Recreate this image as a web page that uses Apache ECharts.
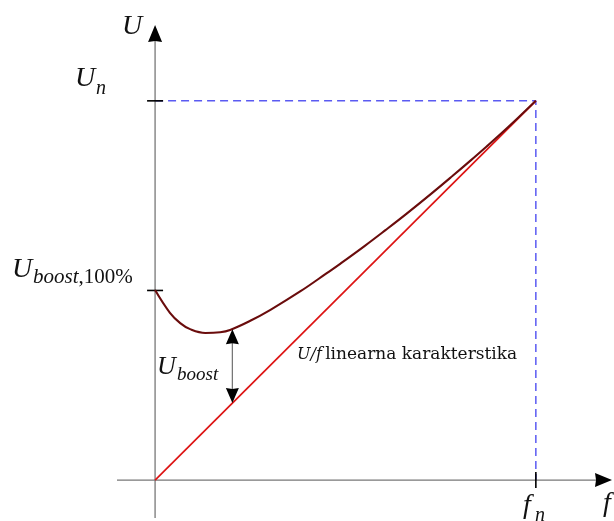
<!DOCTYPE html>
<html>
<head>
<meta charset="utf-8">
<script src="https://cdn.jsdelivr.net/npm/echarts@6/dist/echarts.min.js"></script>
<style>
  html, body { margin: 0; padding: 0; background: #fff; }
  #chart { width: 614px; height: 521px; }
</style>
</head>
<body>
<div id="chart"></div>
<script>
// osi (relativne vrijednosti, fn = 1, Un = 1)
var axisMin = -0.1;
var axisMax = 1.2;
var fn = 1;
var Un = 1;
var uBoost100 = 0.5;
var yTicks = [uBoost100, Un];
var xTicks = [fn];

// U/f linearna karakteristika
var linX = [0, fn];
var linY = [0, Un];

// karakteristika s boostom (ocitano sa slike)
var curveX = [0, 0.039, 0.066, 0.092, 0.132, 0.171, 0.197, 0.25, 0.303, 0.382, 0.45, 0.487, 0.55, 0.605, 0.66, 0.724, 0.78, 0.829, 0.87, 0.908, 0.95, 1.0];
var curveY = [0.501, 0.441, 0.414, 0.398, 0.388, 0.39, 0.396, 0.42, 0.449, 0.498, 0.545, 0.571, 0.617, 0.659, 0.702, 0.754, 0.801, 0.843, 0.879, 0.913, 0.952, 1.0];

// strelica U_boost
var boostX = 0.203;
var boostTop = 0.398;
var boostBottom = 0.203;

var serif = '"Liberation Serif", "DejaVu Serif", serif';
var ink = '#111';

var dom = document.getElementById('chart');
var myChart = echarts.init(dom, null, { renderer: 'canvas' });

function zip(xs, ys) {
  return xs.map(function (x, i) { return [x, ys[i]]; });
}

// linija sa strelicama (glava na jednom ili oba kraja)
function arrowItem(params, api) {
  var p1 = api.coord([api.value(0), api.value(1)]);
  var p2 = api.coord([api.value(2), api.value(3)]);
  var startHead = api.value(4), endHead = api.value(5);
  var len = api.value(6), hw = api.value(7);
  var dx = p2[0] - p1[0], dy = p2[1] - p1[1];
  var d = Math.sqrt(dx * dx + dy * dy);
  var ux = dx / d, uy = dy / d;
  var a = startHead ? [p1[0] + ux * len * 0.9, p1[1] + uy * len * 0.9] : p1;
  var b = endHead ? [p2[0] - ux * len * 0.9, p2[1] - uy * len * 0.9] : p2;
  var children = [{
    type: 'line',
    shape: { x1: a[0], y1: a[1], x2: b[0], y2: b[1] },
    style: { stroke: '#777', lineWidth: 1.3 }
  }];
  function head(tip, sx, sy) {
    var bx = tip[0] - sx * len, by = tip[1] - sy * len;
    return {
      type: 'polygon',
      shape: { points: [tip, [bx - sy * hw, by + sx * hw], [tip[0] - sx * len * 0.94, tip[1] - sy * len * 0.94], [bx + sy * hw, by - sx * hw]] },
      style: { fill: '#000' }
    };
  }
  if (startHead) children.push(head(p1, -ux, -uy));
  if (endHead) children.push(head(p2, ux, uy));
  return { type: 'group', children: children };
}

function tickItem(params, api) {
  var p = api.coord([api.value(0), api.value(1)]);
  var horiz = api.value(2) === 0;
  var h = 8;
  return {
    type: 'line',
    shape: horiz ? { x1: p[0] - h, y1: p[1], x2: p[0] + h, y2: p[1] }
                 : { x1: p[0], y1: p[1] - h, x2: p[0], y2: p[1] + h },
    style: { stroke: '#000', lineWidth: 1.6 }
  };
}

function label(x, y, text, size, italic) {
  return {
    type: 'text', x: x, y: y, z: 20,
    style: {
      text: text, fill: ink, fontFamily: serif, fontSize: size,
      fontStyle: italic ? 'italic' : 'normal',
      align: 'left', verticalAlign: 'middle'
    }
  };
}

var tickData = yTicks.map(function (v) { return [0, v, 0]; })
  .concat(xTicks.map(function (v) { return [v, 0, 1]; }));

var option = {
  animation: false,
  grid: { left: 117, right: 2, top: 25, bottom: 3 },
  xAxis: { type: 'value', min: axisMin, max: axisMax, show: false },
  yAxis: { type: 'value', min: axisMin, max: axisMax, show: false },
  graphic: [
    label(122, 27, 'U', 28, true),
    label(75, 79, 'U', 28, true),
    label(96, 89, 'n', 20, true),
    label(12, 270, 'U', 28, true),
    {
      type: 'text', x: 33, y: 277, z: 20,
      style: {
        text: '{i|boost}{r|,100%}', fill: ink, align: 'left', verticalAlign: 'middle',
        rich: {
          i: { fontFamily: serif, fontSize: 21, fontStyle: 'italic', fill: ink },
          r: { fontFamily: serif, fontSize: 21, fill: ink }
        }
      }
    },
    label(157, 367, 'U', 26, true),
    label(177, 375, 'boost', 19, true),
    {
      type: 'text', x: 297, y: 355, z: 20,
      style: {
        text: '{i|U/f} {r|linearna karakterstika}', fill: ink, align: 'left', verticalAlign: 'middle',
        rich: {
          i: { fontFamily: '"DejaVu Serif", serif', fontSize: 16, fontStyle: 'italic', fill: ink },
          r: { fontFamily: '"DejaVu Serif", serif', fontSize: 17, fill: ink }
        }
      }
    },
    label(523, 506, 'f', 28, true),
    label(535, 516, 'n', 20, true),
    label(603, 504, 'f', 28, true)
  ],
  series: [
    {
      name: 'Un-fn',
      type: 'line',
      data: [[0, Un], [fn, Un], [fn, 0]],
      symbol: 'none',
      lineStyle: { color: '#5a5af2', width: 1.5, type: [8, 5] },
      z: 1
    },
    {
      name: 'osi',
      type: 'custom',
      renderItem: arrowItem,
      clip: false,
      data: [
        [axisMin, 0, axisMax, 0, 0, 1, 17, 7],
        [0, axisMin, 0, axisMax, 0, 1, 17, 7]
      ],
      z: 2
    },
    {
      name: 'tickovi',
      type: 'custom',
      renderItem: tickItem,
      clip: false,
      data: tickData,
      z: 3
    },
    {
      name: 'U/f linearna',
      type: 'line',
      data: zip(linX, linY),
      symbol: 'none',
      lineStyle: { color: '#dd1414', width: 1.7 },
      z: 4
    },
    {
      name: 'boost',
      type: 'line',
      data: zip(curveX, curveY),
      smooth: 0.4,
      symbol: 'none',
      lineStyle: { color: '#6a0c0c', width: 2.1 },
      z: 5
    },
    {
      name: 'Uboost strelica',
      type: 'custom',
      renderItem: arrowItem,
      clip: false,
      data: [[boostX, boostTop, boostX, boostBottom, 1, 1, 15, 6.5]],
      z: 6
    }
  ]
};

if (option && typeof option === 'object') {
  myChart.setOption(option);
}

window.addEventListener('resize', myChart.resize);
</script>
</body>
</html>
